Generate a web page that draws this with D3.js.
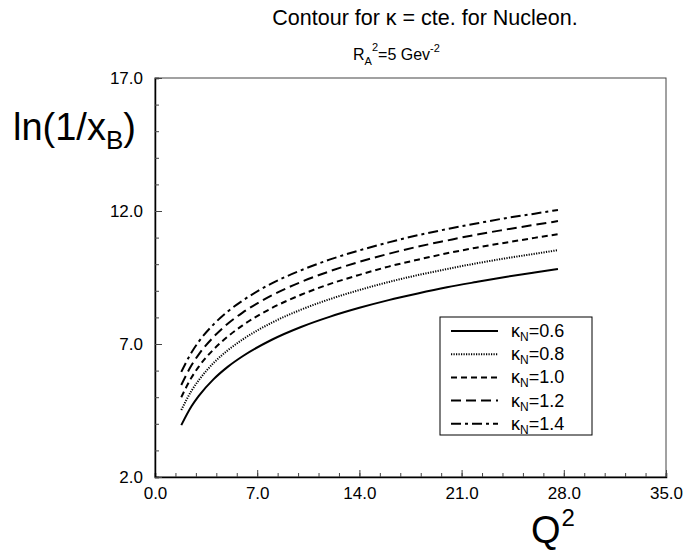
<!DOCTYPE html>
<html><head><meta charset="utf-8">
<script src="https://cdn.jsdelivr.net/npm/d3@7"></script>
<style>body{margin:0;background:#fff;} text{font-family:"Liberation Sans",Arial,sans-serif;}</style>
</head><body>
<svg id="c" width="689" height="556"></svg>
<script>
const q2 = [1.8, 2.5, 3, 4, 5, 6, 8, 10, 12, 14, 16, 18, 20, 22, 24, 26, 27.6];
const k06 = [3.95, 4.66, 5.05, 5.67, 6.15, 6.54, 7.16, 7.64, 8.03, 8.36, 8.65, 8.90, 9.13, 9.33, 9.52, 9.69, 9.82];
const k08 = [4.52, 5.24, 5.64, 6.28, 6.77, 7.17, 7.80, 8.29, 8.69, 9.03, 9.33, 9.59, 9.82, 10.03, 10.22, 10.39, 10.53];
const k10 = [5.00, 5.74, 6.15, 6.79, 7.29, 7.70, 8.35, 8.85, 9.26, 9.60, 9.91, 10.17, 10.41, 10.62, 10.81, 10.99, 11.13];
const k12 = [5.46, 6.20, 6.61, 7.26, 7.77, 8.18, 8.83, 9.33, 9.74, 10.09, 10.39, 10.66, 10.89, 11.11, 11.30, 11.48, 11.62];
const k14 = [5.95, 6.68, 7.09, 7.73, 8.23, 8.63, 9.28, 9.77, 10.18, 10.52, 10.82, 11.09, 11.32, 11.53, 11.73, 11.90, 12.04];
const seriesNames = ["0.6", "0.8", "1.0", "1.2", "1.4"];
const seriesValues = [k06, k08, k10, k12, k14];
const xTicks = [0, 7, 14, 21, 28, 35];
const yTicks = [2, 7, 12, 17];
const dashes = [null, "1.2,1.3", "6,4", "10,5", "10,4,3,4"];

const svg = d3.select("#c");
const L = 155, R = 666, T = 78, B = 477;
const x = d3.scaleLinear().domain([0, 35]).range([L, R]);
const y = d3.scaleLinear().domain([2, 17]).range([B, T]);
const FF = "Liberation Sans, Arial, sans-serif";

// frame
svg.append("rect").attr("x", L).attr("y", T).attr("width", R - L).attr("height", B - T)
  .attr("fill", "none").attr("stroke", "#444").attr("stroke-width", 1);

// axes
svg.append("g").attr("transform", `translate(0,${B})`)
  .call(d3.axisBottom(x).tickValues(d3.range(0, 35.01, 1.4)).tickSize(-4).tickFormat(""))
  .call(g => g.select(".domain").attr("stroke", "#000").attr("stroke-width", 1.5));
svg.append("g").attr("transform", `translate(0,${B})`)
  .call(d3.axisBottom(x).tickValues(xTicks).tickSize(-7).tickPadding(10).tickFormat(d3.format(".1f")))
  .call(g => g.select(".domain").remove())
  .call(g => g.selectAll("text").attr("font-size", 17).attr("fill", "#000").attr("font-family", FF).attr("dy", "0.72em"));
svg.append("g").attr("transform", `translate(${L},0)`)
  .call(d3.axisLeft(y).tickValues(d3.range(2, 17.01, 1)).tickSize(-4).tickFormat(""))
  .call(g => g.select(".domain").attr("stroke", "#000").attr("stroke-width", 1.5));
svg.append("g").attr("transform", `translate(${L},0)`)
  .call(d3.axisLeft(y).tickValues(yTicks).tickSize(-7).tickPadding(12).tickFormat(d3.format(".1f")))
  .call(g => g.select(".domain").remove())
  .call(g => g.selectAll("text").attr("font-size", 17).attr("fill", "#000").attr("font-family", FF));
svg.selectAll(".tick line").attr("stroke", "#444");

// curves
const line = d3.line().x((d, i) => x(q2[i])).y(d => y(d)).curve(d3.curveMonotoneX);
seriesValues.forEach((vals, i) => {
  svg.append("path").datum(vals).attr("d", line).attr("fill", "none")
    .attr("stroke", "#000").attr("stroke-width", 2)
    .attr("stroke-dasharray", dashes[i]);
});

// legend
const lg = svg.append("g");
lg.append("rect").attr("x", 440).attr("y", 317).attr("width", 152).attr("height", 118)
  .attr("fill", "#fff").attr("stroke", "#000").attr("stroke-width", 1);
seriesNames.forEach((n, i) => {
  const yy = 331 + i * 23.2;
  lg.append("line").attr("x1", 451).attr("x2", 498).attr("y1", yy).attr("y2", yy)
    .attr("stroke", "#000").attr("stroke-width", 2).attr("stroke-dasharray", dashes[i]);
  const t = lg.append("text").attr("x", 511).attr("y", yy + 6).attr("font-size", 18);
  t.append("tspan").text("κ");
  t.append("tspan").attr("font-size", 12).attr("dy", 4).text("N");
  t.append("tspan").attr("dy", -4).text("=" + n);
});

// titles
svg.append("text").attr("x", 425).attr("y", 25).attr("text-anchor", "middle").attr("font-size", 21.5)
  .text("Contour for κ = cte. for Nucleon.");
const st = svg.append("text").attr("x", 353).attr("y", 60).attr("font-size", 16);
st.append("tspan").text("R");
st.append("tspan").attr("font-size", 11).attr("dy", 5).text("A");
st.append("tspan").attr("font-size", 11).attr("dy", -14).text("2");
st.append("tspan").attr("dy", 9).text("=5 Gev");
st.append("tspan").attr("font-size", 11).attr("dy", -8).text("-2");

const yl = svg.append("text").attr("x", 13).attr("y", 140).attr("font-size", 38);
yl.append("tspan").text("ln(1/x");
yl.append("tspan").attr("font-size", 26).attr("dy", 9).text("B");
yl.append("tspan").attr("dy", -9).text(")");

const xl = svg.append("text").attr("x", 531).attr("y", 543).attr("font-size", 38);
xl.append("tspan").text("Q");
xl.append("tspan").attr("font-size", 24).attr("dy", -17).attr("dx", 1).text("2");
</script>
</body></html>
